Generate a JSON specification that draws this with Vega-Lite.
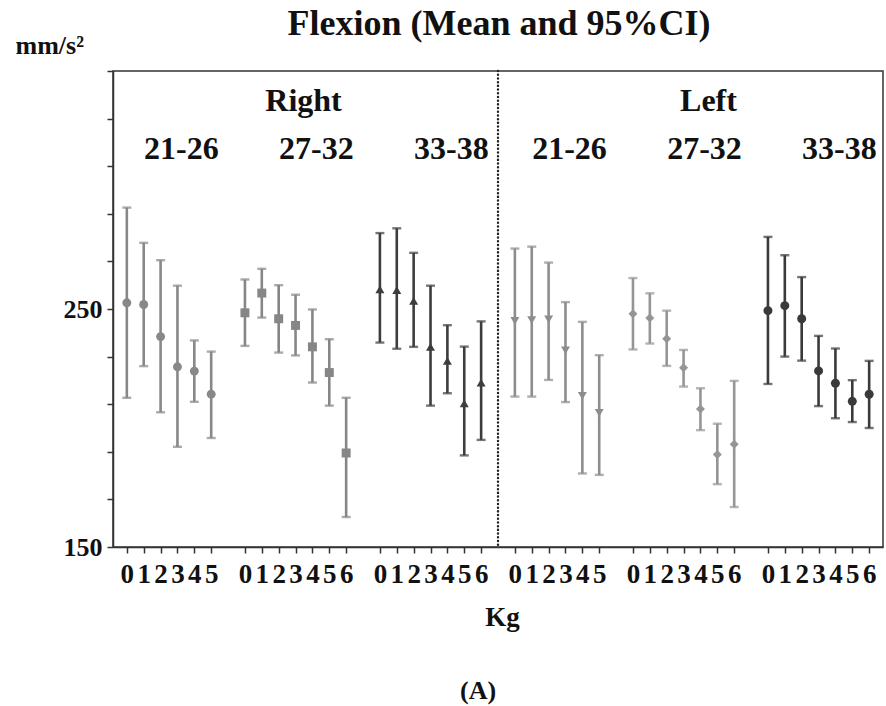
{
  "$schema": "https://vega.github.io/schema/vega-lite/v6.json",
  "autosize": {"type": "none"},
  "padding": {"left": 113, "top": 71, "right": 3, "bottom": 159},
  "width": 770,
  "height": 476,
  "background": "white",
  "config": {
    "view": {"stroke": "#333", "strokeWidth": 1.5},
    "axis": {"grid": false, "domainColor": "#333", "domainWidth": 1.5, "tickColor": "#333", "tickWidth": 1.5, "labelColor": "#111", "titleColor": "#111"},
    "axisY": {"labelOverlap": false, "labelBound": false, "tickCount": 20}
  },
  "data": {
    "values": [
      {"id": "R21-0", "series": "Right 21-26", "side": "Right", "age": "21-26", "kg": 0, "mean": 252.6, "lo": 212.7, "hi": 292.6},
      {"id": "R21-1", "series": "Right 21-26", "side": "Right", "age": "21-26", "kg": 1, "mean": 251.9, "lo": 226.0, "hi": 277.8},
      {"id": "R21-2", "series": "Right 21-26", "side": "Right", "age": "21-26", "kg": 2, "mean": 238.4, "lo": 206.6, "hi": 270.5},
      {"id": "R21-3", "series": "Right 21-26", "side": "Right", "age": "21-26", "kg": 3, "mean": 225.7, "lo": 192.1, "hi": 259.8},
      {"id": "R21-4", "series": "Right 21-26", "side": "Right", "age": "21-26", "kg": 4, "mean": 223.9, "lo": 211.0, "hi": 236.8},
      {"id": "R21-5", "series": "Right 21-26", "side": "Right", "age": "21-26", "kg": 5, "mean": 214.2, "lo": 195.8, "hi": 232.1},
      {"id": "R27-0", "series": "Right 27-32", "side": "Right", "age": "27-32", "kg": 0, "mean": 248.4, "lo": 234.5, "hi": 262.4},
      {"id": "R27-1", "series": "Right 27-32", "side": "Right", "age": "27-32", "kg": 1, "mean": 256.7, "lo": 246.4, "hi": 266.9},
      {"id": "R27-2", "series": "Right 27-32", "side": "Right", "age": "27-32", "kg": 2, "mean": 245.9, "lo": 231.7, "hi": 260.0},
      {"id": "R27-3", "series": "Right 27-32", "side": "Right", "age": "27-32", "kg": 3, "mean": 243.1, "lo": 230.5, "hi": 256.0},
      {"id": "R27-4", "series": "Right 27-32", "side": "Right", "age": "27-32", "kg": 4, "mean": 234.1, "lo": 219.1, "hi": 249.8},
      {"id": "R27-5", "series": "Right 27-32", "side": "Right", "age": "27-32", "kg": 5, "mean": 223.3, "lo": 209.4, "hi": 237.3},
      {"id": "R27-6", "series": "Right 27-32", "side": "Right", "age": "27-32", "kg": 6, "mean": 189.5, "lo": 162.6, "hi": 212.7},
      {"id": "R33-0", "series": "Right 33-38", "side": "Right", "age": "33-38", "kg": 0, "mean": 258.2, "lo": 235.9, "hi": 281.9},
      {"id": "R33-1", "series": "Right 33-38", "side": "Right", "age": "33-38", "kg": 1, "mean": 257.9, "lo": 233.3, "hi": 283.9},
      {"id": "R33-2", "series": "Right 33-38", "side": "Right", "age": "33-38", "kg": 2, "mean": 253.4, "lo": 234.1, "hi": 273.6},
      {"id": "R33-3", "series": "Right 33-38", "side": "Right", "age": "33-38", "kg": 3, "mean": 234.1, "lo": 209.4, "hi": 259.8},
      {"id": "R33-4", "series": "Right 33-38", "side": "Right", "age": "33-38", "kg": 4, "mean": 228.2, "lo": 214.6, "hi": 243.2},
      {"id": "R33-5", "series": "Right 33-38", "side": "Right", "age": "33-38", "kg": 5, "mean": 210.3, "lo": 188.5, "hi": 234.2},
      {"id": "R33-6", "series": "Right 33-38", "side": "Right", "age": "33-38", "kg": 6, "mean": 219.1, "lo": 195.0, "hi": 244.8},
      {"id": "L21-0", "series": "Left 21-26", "side": "Left", "age": "21-26", "kg": 0, "mean": 245.0, "lo": 213.2, "hi": 275.4},
      {"id": "L21-1", "series": "Left 21-26", "side": "Left", "age": "21-26", "kg": 1, "mean": 245.3, "lo": 213.2, "hi": 276.2},
      {"id": "L21-2", "series": "Left 21-26", "side": "Left", "age": "21-26", "kg": 2, "mean": 245.6, "lo": 220.2, "hi": 269.5},
      {"id": "L21-3", "series": "Left 21-26", "side": "Left", "age": "21-26", "kg": 3, "mean": 232.6, "lo": 210.9, "hi": 252.9},
      {"id": "L21-4", "series": "Left 21-26", "side": "Left", "age": "21-26", "kg": 4, "mean": 213.5, "lo": 180.9, "hi": 244.6},
      {"id": "L21-5", "series": "Left 21-26", "side": "Left", "age": "21-26", "kg": 5, "mean": 206.4, "lo": 180.3, "hi": 230.6},
      {"id": "L27-0", "series": "Left 27-32", "side": "Left", "age": "27-32", "kg": 0, "mean": 248.0, "lo": 233.0, "hi": 263.0},
      {"id": "L27-1", "series": "Left 27-32", "side": "Left", "age": "27-32", "kg": 1, "mean": 246.2, "lo": 235.5, "hi": 256.6},
      {"id": "L27-2", "series": "Left 27-32", "side": "Left", "age": "27-32", "kg": 2, "mean": 237.5, "lo": 226.1, "hi": 249.3},
      {"id": "L27-3", "series": "Left 27-32", "side": "Left", "age": "27-32", "kg": 3, "mean": 225.3, "lo": 217.4, "hi": 232.8},
      {"id": "L27-4", "series": "Left 27-32", "side": "Left", "age": "27-32", "kg": 4, "mean": 208.0, "lo": 199.1, "hi": 216.7},
      {"id": "L27-5", "series": "Left 27-32", "side": "Left", "age": "27-32", "kg": 5, "mean": 188.9, "lo": 176.4, "hi": 201.8},
      {"id": "L27-6", "series": "Left 27-32", "side": "Left", "age": "27-32", "kg": 6, "mean": 193.2, "lo": 166.8, "hi": 219.8},
      {"id": "L33-0", "series": "Left 33-38", "side": "Left", "age": "33-38", "kg": 0, "mean": 249.3, "lo": 218.5, "hi": 280.3},
      {"id": "L33-1", "series": "Left 33-38", "side": "Left", "age": "33-38", "kg": 1, "mean": 251.4, "lo": 230.0, "hi": 272.6},
      {"id": "L33-2", "series": "Left 33-38", "side": "Left", "age": "33-38", "kg": 2, "mean": 245.9, "lo": 228.3, "hi": 263.4},
      {"id": "L33-3", "series": "Left 33-38", "side": "Left", "age": "33-38", "kg": 3, "mean": 224.0, "lo": 209.2, "hi": 238.7},
      {"id": "L33-4", "series": "Left 33-38", "side": "Left", "age": "33-38", "kg": 4, "mean": 218.8, "lo": 204.1, "hi": 233.4},
      {"id": "L33-5", "series": "Left 33-38", "side": "Left", "age": "33-38", "kg": 5, "mean": 211.2, "lo": 202.5, "hi": 220.1},
      {"id": "L33-6", "series": "Left 33-38", "side": "Left", "age": "33-38", "kg": 6, "mean": 214.2, "lo": 200.0, "hi": 228.2}
    ]
  },
  "encoding": {
    "x": {
      "field": "id",
      "type": "nominal",
      "scale": {
        "type": "point",
        "padding": 0.82,
        "domain": ["R21-0","R21-1","R21-2","R21-3","R21-4","R21-5","gap1","R27-0","R27-1","R27-2","R27-3","R27-4","R27-5","R27-6","gap2","R33-0","R33-1","R33-2","R33-3","R33-4","R33-5","R33-6","gap3","L21-0","L21-1","L21-2","L21-3","L21-4","L21-5","gap4","L27-0","L27-1","L27-2","L27-3","L27-4","L27-5","L27-6","gap5","L33-0","L33-1","L33-2","L33-3","L33-4","L33-5","L33-6"]
      },
      "axis": {
        "values": ["R21-0","R21-1","R21-2","R21-3","R21-4","R21-5","R27-0","R27-1","R27-2","R27-3","R27-4","R27-5","R27-6","R33-0","R33-1","R33-2","R33-3","R33-4","R33-5","R33-6","L21-0","L21-1","L21-2","L21-3","L21-4","L21-5","L27-0","L27-1","L27-2","L27-3","L27-4","L27-5","L27-6","L33-0","L33-1","L33-2","L33-3","L33-4","L33-5","L33-6"],
        "labelExpr": "split(datum.value, '-')[1]",
        "labelAngle": 0,
        "labelOverlap": false,
        "labelFont": "Liberation Serif",
        "labelFontSize": 27,
        "labelFontWeight": "bold",
        "labelPadding": 8,
        "tickSize": 6,
        "title": "Kg",
        "titleFont": "Liberation Serif",
        "titleFontSize": 27,
        "titleFontWeight": "bold",
        "titleX": 389,
        "titleY": 78,
        "titleAlign": "center",
        "titleBaseline": "alphabetic"
      }
    }
  },
  "layer": [
    {
      "data": {"values": [{}]},
      "mark": {"type": "rule", "color": "#222", "strokeWidth": 2.4, "strokeDash": [0.1, 3.6], "strokeCap": "round"},
      "encoding": {"x": {"datum": "gap3"}}
    },
    {
      "mark": {"type": "rule", "strokeWidth": 2.6},
      "encoding": {
        "y": {
          "field": "lo",
          "type": "quantitative",
          "scale": {"domain": [150, 350], "nice": false, "zero": false},
          "axis": {
            "values": [150,160,170,180,190,200,210,220,230,240,250,260,270,280,290,300,310,320,330,340,350],
            "labelExpr": "datum.value % 50 === 0 && datum.value < 350 ? datum.label : ''",
            "labelOverlap": false,
            "labelFont": "Liberation Serif",
            "labelFontSize": 26,
            "labelFontWeight": "bold",
            "labelPadding": 5,
            "tickSize": 6,
            "title": "mm/s²",
            "titleFont": "Liberation Serif",
            "titleFontSize": 26,
            "titleFontWeight": "bold",
            "titleAngle": 0,
            "titleAlign": "left",
            "titleBaseline": "alphabetic",
            "titleX": -98,
            "titleY": -18
          }
        },
        "y2": {"field": "hi"},
        "color": {"field": "series", "type": "nominal", "legend": null,
          "scale": {"domain": ["Right 21-26","Right 27-32","Right 33-38","Left 21-26","Left 27-32","Left 33-38"],
                    "range": ["#888888","#868686","#3d3d3d","#8d8d8d","#959595","#3a3a3a"]}}
      }
    },
    {
      "mark": {"type": "tick", "thickness": 2.4, "size": 9},
      "encoding": {
        "y": {"field": "lo", "type": "quantitative",
          "axis": {
            "values": [150,160,170,180,190,200,210,220,230,240,250,260,270,280,290,300,310,320,330,340,350],
            "labelExpr": "datum.value % 50 === 0 && datum.value < 350 ? datum.label : ''",
            "labelOverlap": false,
            "labelFont": "Liberation Serif",
            "labelFontSize": 26,
            "labelFontWeight": "bold",
            "labelPadding": 5,
            "tickSize": 6,
            "title": "mm/s²",
            "titleFont": "Liberation Serif",
            "titleFontSize": 26,
            "titleFontWeight": "bold",
            "titleAngle": 0,
            "titleAlign": "left",
            "titleBaseline": "alphabetic",
            "titleX": -98,
            "titleY": -18
          }},
        "color": {"field": "series", "type": "nominal", "legend": null}
      }
    },
    {
      "mark": {"type": "tick", "thickness": 2.4, "size": 9},
      "encoding": {
        "y": {"field": "hi", "type": "quantitative",
          "axis": {
            "values": [150,160,170,180,190,200,210,220,230,240,250,260,270,280,290,300,310,320,330,340,350],
            "labelExpr": "datum.value % 50 === 0 && datum.value < 350 ? datum.label : ''",
            "labelOverlap": false,
            "labelFont": "Liberation Serif",
            "labelFontSize": 26,
            "labelFontWeight": "bold",
            "labelPadding": 5,
            "tickSize": 6,
            "title": "mm/s²",
            "titleFont": "Liberation Serif",
            "titleFontSize": 26,
            "titleFontWeight": "bold",
            "titleAngle": 0,
            "titleAlign": "left",
            "titleBaseline": "alphabetic",
            "titleX": -98,
            "titleY": -18
          }},
        "color": {"field": "series", "type": "nominal", "legend": null}
      }
    },
    {
      "mark": {"type": "point", "filled": true, "opacity": 1},
      "encoding": {
        "y": {"field": "mean", "type": "quantitative",
          "axis": {
            "values": [150,160,170,180,190,200,210,220,230,240,250,260,270,280,290,300,310,320,330,340,350],
            "labelExpr": "datum.value % 50 === 0 && datum.value < 350 ? datum.label : ''",
            "labelOverlap": false,
            "labelFont": "Liberation Serif",
            "labelFontSize": 26,
            "labelFontWeight": "bold",
            "labelPadding": 5,
            "tickSize": 6,
            "title": "mm/s²",
            "titleFont": "Liberation Serif",
            "titleFontSize": 26,
            "titleFontWeight": "bold",
            "titleAngle": 0,
            "titleAlign": "left",
            "titleBaseline": "alphabetic",
            "titleX": -98,
            "titleY": -18
          }},
        "color": {"field": "series", "type": "nominal", "legend": null},
        "shape": {"field": "series", "type": "nominal", "legend": null,
          "scale": {"domain": ["Right 21-26","Right 27-32","Right 33-38","Left 21-26","Left 27-32","Left 33-38"],
                    "range": ["circle","square","triangle-up","triangle-down","diamond","circle"]}},
        "size": {"field": "series", "type": "nominal", "legend": null,
          "scale": {"domain": ["Right 21-26","Right 27-32","Right 33-38","Left 21-26","Left 27-32","Left 33-38"],
                    "range": [80, 81, 110, 95, 70, 105]}}
      }
    },
    {
      "transform": [{"filter": "(datum.age === '21-26' && datum.kg === 3) || (datum.age !== '21-26' && datum.kg === 4)"}],
      "mark": {"type": "text", "font": "Liberation Serif", "fontSize": 32, "fontWeight": "bold", "color": "#111", "baseline": "alphabetic", "align": "center", "dx": 4},
      "encoding": {
        "y": {"datum": 312.9, "type": "quantitative",
          "axis": {
            "values": [150,160,170,180,190,200,210,220,230,240,250,260,270,280,290,300,310,320,330,340,350],
            "labelExpr": "datum.value % 50 === 0 && datum.value < 350 ? datum.label : ''",
            "labelOverlap": false,
            "labelFont": "Liberation Serif",
            "labelFontSize": 26,
            "labelFontWeight": "bold",
            "labelPadding": 5,
            "tickSize": 6,
            "title": "mm/s²",
            "titleFont": "Liberation Serif",
            "titleFontSize": 26,
            "titleFontWeight": "bold",
            "titleAngle": 0,
            "titleAlign": "left",
            "titleBaseline": "alphabetic",
            "titleX": -98,
            "titleY": -18
          }},
        "text": {"field": "age"}
      }
    },
    {
      "transform": [{"filter": "datum.age === '27-32' && ((datum.side === 'Right' && datum.kg === 3) || (datum.side === 'Left' && datum.kg === 4))"}],
      "mark": {"type": "text", "font": "Liberation Serif", "fontSize": 32, "fontWeight": "bold", "color": "#111", "baseline": "alphabetic", "align": "center", "dx": 8},
      "encoding": {
        "y": {"datum": 333.0, "type": "quantitative",
          "axis": {
            "values": [150,160,170,180,190,200,210,220,230,240,250,260,270,280,290,300,310,320,330,340,350],
            "labelExpr": "datum.value % 50 === 0 && datum.value < 350 ? datum.label : ''",
            "labelOverlap": false,
            "labelFont": "Liberation Serif",
            "labelFontSize": 26,
            "labelFontWeight": "bold",
            "labelPadding": 5,
            "tickSize": 6,
            "title": "mm/s²",
            "titleFont": "Liberation Serif",
            "titleFontSize": 26,
            "titleFontWeight": "bold",
            "titleAngle": 0,
            "titleAlign": "left",
            "titleBaseline": "alphabetic",
            "titleX": -98,
            "titleY": -18
          }},
        "text": {"field": "side"}
      }
    },
    {
      "data": {"values": [{"caption": "Flexion (Mean and 95%CI)"}]},
      "mark": {"type": "text", "font": "Liberation Serif", "fontSize": 36, "fontWeight": "bold", "color": "#111", "baseline": "alphabetic", "align": "center", "dx": 1},
      "encoding": {
        "x": {"datum": "gap3"},
        "y": {"datum": 365.2, "type": "quantitative",
          "axis": {
            "values": [150,160,170,180,190,200,210,220,230,240,250,260,270,280,290,300,310,320,330,340,350],
            "labelExpr": "datum.value % 50 === 0 && datum.value < 350 ? datum.label : ''",
            "labelOverlap": false,
            "labelFont": "Liberation Serif",
            "labelFontSize": 26,
            "labelFontWeight": "bold",
            "labelPadding": 5,
            "tickSize": 6,
            "title": "mm/s²",
            "titleFont": "Liberation Serif",
            "titleFontSize": 26,
            "titleFontWeight": "bold",
            "titleAngle": 0,
            "titleAlign": "left",
            "titleBaseline": "alphabetic",
            "titleX": -98,
            "titleY": -18
          }},
        "text": {"field": "caption"}
      }
    },
    {
      "data": {"values": [{"caption": "(A)"}]},
      "mark": {"type": "text", "font": "Liberation Serif", "fontSize": 26, "fontWeight": "bold", "color": "#111", "baseline": "alphabetic", "align": "center", "dx": -3},
      "encoding": {
        "x": {"datum": "R33-6"},
        "y": {"datum": 86.25, "type": "quantitative",
          "axis": {
            "values": [150,160,170,180,190,200,210,220,230,240,250,260,270,280,290,300,310,320,330,340,350],
            "labelExpr": "datum.value % 50 === 0 && datum.value < 350 ? datum.label : ''",
            "labelOverlap": false,
            "labelFont": "Liberation Serif",
            "labelFontSize": 26,
            "labelFontWeight": "bold",
            "labelPadding": 5,
            "tickSize": 6,
            "title": "mm/s²",
            "titleFont": "Liberation Serif",
            "titleFontSize": 26,
            "titleFontWeight": "bold",
            "titleAngle": 0,
            "titleAlign": "left",
            "titleBaseline": "alphabetic",
            "titleX": -98,
            "titleY": -18
          }},
        "text": {"field": "caption"}
      }
    }
  ]
}
